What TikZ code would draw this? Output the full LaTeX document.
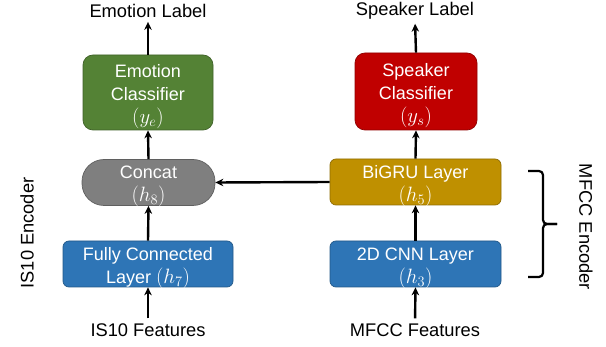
\documentclass[tikz,border=0pt]{standalone}
\usepackage{fontspec}
\setmainfont{Liberation Sans}
\usetikzlibrary{arrows.meta}
\definecolor{cgreen}{HTML}{548235}
\definecolor{cred}{HTML}{C00000}
\definecolor{cgold}{HTML}{BF9000}
\definecolor{cblue}{HTML}{2E75B6}
\definecolor{cgray}{HTML}{7F7F7F}
\newcommand{\mth}[1]{{\fontsize{20}{22}\selectfont$#1$}}
\newcommand{\boxlines}[1]{\raisebox{-3pt}[\height][\depth]{\begin{tabular}{@{}c@{}}#1\end{tabular}}}
\tikzset{
  box/.style={draw=#1!75!black, line width=0.7pt, fill=#1, text=white,
    font=\fontsize{18}{23}\selectfont, inner sep=0pt},
  lbl/.style={font=\fontsize{18.3}{21}\selectfont, inner sep=1pt},
  side/.style={font=\fontsize{18.3}{21}\selectfont, inner sep=0pt},
  arr/.style={line width=2.4pt, -{Stealth[length=8pt,width=7.5pt]}},
}
\begin{document}
\begin{tikzpicture}[x=1pt,y=-1pt]
\useasboundingbox (0,0) rectangle (606,347);
% classifiers
\node[box=cgreen, minimum width=130pt, minimum height=75pt, rounded corners=10pt] (emo) at (148,92.5)
  {\boxlines{Emotion\\Classifier\\\mth{(y_e)}}};
\node[box=cred, minimum width=122pt, minimum height=77pt, rounded corners=10pt] (spk) at (416,91.5)
  {\boxlines{Speaker\\Classifier\\\mth{(y_s)}}};
% middle row
\node[box=cgray, minimum width=133pt, minimum height=45pt, rounded corners=22pt] (cat) at (148.5,182.5)
  {\boxlines{Concat\\\mth{(h_8)}}};
\node[box=cgold, minimum width=171pt, minimum height=42pt, rounded corners=6pt] (gru) at (415.5,182)
  {\boxlines{BiGRU Layer\\\mth{(h_5)}}};
% bottom row
\node[box=cblue, minimum width=170pt, minimum height=42pt, rounded corners=6pt] (fc) at (148,264)
  {\boxlines{Fully Connected\\Layer \mth{(h_7)}}};
\node[box=cblue, minimum width=171pt, minimum height=42pt, rounded corners=6pt] (cnn) at (415.5,264)
  {\boxlines{2D CNN Layer\\\mth{(h_3)}}};
% labels
\node[lbl] (elab) at (148,11) {Emotion Label};
\node[lbl] (slab) at (415,11) {Speaker Label};
\node[lbl] (isf) at (148,330) {IS10 Features};
\node[lbl] (mff) at (415,330) {MFCC Features};
\node[side, rotate=90] (isenc) at (27,233) {IS10 Encoder};
\node[side, rotate=-90] (mfenc) at (586,227) {MFCC Encoder};
% arrows
\draw[arr, shorten >=3pt] (emo.north) -- (elab.south);
\draw[arr, shorten >=3pt] (spk.north) -- (slab.south);
\draw[arr] (cat.north) -- (emo.south);
\draw[arr] (gru.north) -- (spk.south);
\draw[arr] (fc.north) -- (cat.south);
\draw[arr] (cnn.north) -- (gru.south);
\draw[arr, shorten <=4pt] (isf.north) -- (fc.south);
\draw[arr, shorten <=4pt] (mff.north) -- (cnn.south);
\draw[arr] (gru.west) -- (cat.east);
% brace
\coordinate (bt) at (528,171);
\coordinate (bb) at (528,277);
\coordinate (bm) at (543,224);
\coordinate (btip) at (557,224);
\draw[line width=2.2pt, rounded corners=4pt] (bt) -- (bt -| bm) -- (bm) -- (btip);
\draw[line width=2.2pt, rounded corners=4pt] (bb) -- (bb -| bm) -- (bm) -- (btip);
\end{tikzpicture}
\end{document}
